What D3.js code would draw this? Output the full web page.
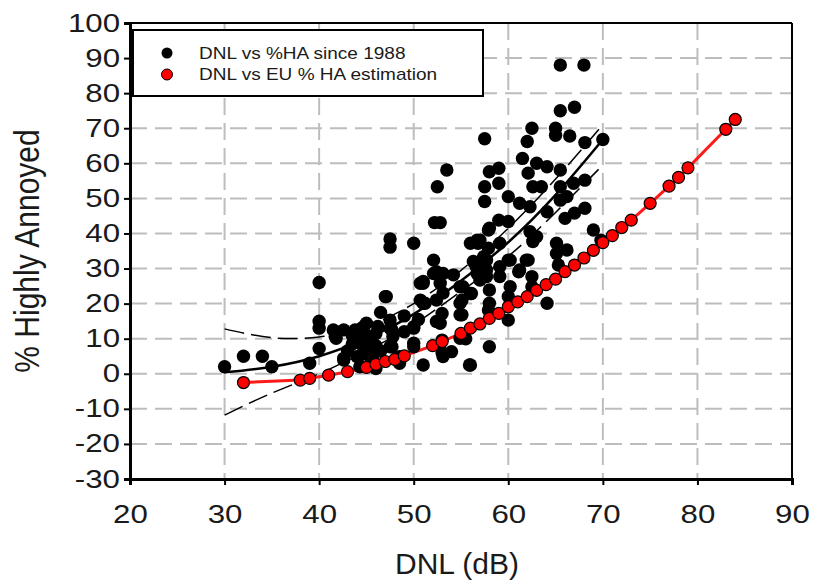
<!DOCTYPE html>
<html>
<head>
<meta charset="utf-8">
<script src="https://cdn.jsdelivr.net/npm/d3@7"></script>
<style>
  body { margin: 0; background: #fff; }
  text { font-family: "Liberation Sans", Arial, sans-serif; fill: #1a1a1a; }
</style>
</head>
<body>
<div id="chart"></div>
<script>
var width = 813, height = 581;
var margin = {left: 130, right: 21, top: 23, bottom: 102};

var xTicks = [20, 30, 40, 50, 60, 70, 80, 90];
var yTicks = [-30, -20, -10, 0, 10, 20, 30, 40, 50, 60, 70, 80, 90, 100];

// survey points (DNL, %HA)
var surveyPoints = [
  [30,2],[32,5],[34,5],[35,2],[39,3],[40,26],[40,15],[40,13],[40,7.2],
  [42.6,4.4],[42.6,12.5],[41.8,10.1],[44.5,13],[45,14.4],[47.5,38.4],[47.5,36.1],
  [47.1,22],[50,37.2],[47.5,15.3],[47.7,12.5],[47.7,7.7],[50,13],[50,7.7],
  [50.7,25.8],[50.7,21],[41.7,10.6],[44.7,13.4],[44.7,10.6],[47.5,13],[47.8,10.6],
  [44.7,7.7],[45.4,5.8],[44,4.9],[42.6,3.9],[44.3,2],[45.7,3.9],[47.5,7.7],
  [48.5,4.9],[50,13.4],[50,8.7],[51,2.5],[53.1,4.9],[54,6.3],[53,9.6],[55.9,2.5],
  [43.5,8.5],[45.5,9.5],[46,11.5],[46.5,6.5],[43,6.5],[46,1.5],[48.5,3],[49,12],
  [44,9],[45,11],[46,8],[44.5,5.5],[45.5,3],[43.8,12.5],[46.2,13.5],
  [52.2,43.1],[52.8,43.1],[52.1,32.4],[52.4,29.1],[51,26.3],[53.1,28.6],[54.2,28.2],
  [52.8,25.8],[55.2,24.8],[56.1,22.9],[47,22],[51.2,20.1],[52.4,21],[53,17.2],
  [55.1,21],[55.1,16.8],[52.4,14.9],[54.9,10.1],[56.8,37.2],[56,37.2],[56.6,30.5],
  [65.5,88],[68,88],[65.5,75],[67,76],[62.5,70],[65,70],[62,66.2],[65,68],
  [66.5,67.8],[68.1,65.9],[70,66.8],[57.5,67],[61.5,61.4],[62.1,57.2],[63,60],
  [64.1,59],[65.5,58.1],[58,57.6],[59,58.6],[57.5,53.3],[59,54.3],[62.6,53.3],
  [63.5,53.3],[65.5,53.3],[66.9,54.3],[68.1,55.2],[57.5,49.1],[60,50.5],[61.2,48.6],
  [62.3,47.6],[64.1,46.2],[65.5,49.5],[66.2,50.5],[68.1,47.2],[67,45.8],[66,44.3],
  [59,43.8],[60,43.4],[57.9,41],[56.7,38.1],[59.1,37.2],[62.3,40.5],[63,39.1],
  [62.6,37.7],[69,41],[69.8,38.1],[57.4,33.4],[56.3,32],[57.7,29.6],[60,32.4],[62.1,32.4],
  [65.1,37.2],[66.2,35.3],[65.1,34.3],[61.1,29.1],[59.1,27.7],[57,26.7],[58,23.9],
  [62.5,27.7],[62.5,24.8],[64.1,20.1],[65.3,31],[60,22],[58,20.1],
  [53.5,58.1],[52.5,53.3],[58,41.5],[57,38.1],[57.9,35.8],[52.1,28.6],[53.1,23],
  [51,25.8],[51,20.1],[54.9,24.8],[56,22.9],[54.9,20.1],[56.7,28.6],[57.7,32.4],
  [57.7,27.7],[59.1,30.5],[60.2,32.4],[61.9,32.4],[61.2,29.6],[60.2,24.8],[60,15.3],
  [57.9,18.2],[58,7.7],[52.8,14.4],[54.9,16.8],[56,2.5],[53,6],[55.5,10],
  [50.5,15.5],[49,16.5],[46.5,17.5],[43.5,11],[41.5,12.5]
];

// EU %HA estimation
var euDnl = [32, 38, 39, 41, 43, 45, 46, 47, 48, 49, 52, 53, 55, 56, 57, 58, 59, 60, 61,
  62, 63, 64, 65, 66, 67, 68, 69, 70, 71, 72, 73, 75, 77, 78, 79, 83, 84];
var euHa = [-2.5, -1.8, -1.3, -0.4, 0.6, 1.8, 2.7, 3.5, 4.1, 5.1, 8.0, 9.2, 11.5, 13.0, 14.2,
  15.8, 17.2, 19.1, 20.5, 22.0, 23.8, 25.4, 27.0, 29.1, 31.0, 33.0, 35.2, 37.4, 39.4, 41.7,
  43.8, 48.6, 53.5, 56.0, 58.7, 69.7, 72.5];

// regression curve and confidence band
var fitDnl = [30, 35, 40, 45, 50, 55, 60, 65, 70];
var fitHa = [0.4, 2, 5, 10, 17, 26.5, 37.5, 51, 66.8];
var fitUpper = [12.8, 10.3, 10.5, 13.5, 20, 29.5, 41.5, 55.5, 71];
var fitLower = [-11.8, -5.5, 0, 6.5, 14, 23.5, 33.5, 46, 59.5];

var svg = d3.select('#chart').append('svg')
  .attr('width', width).attr('height', height);

var x = d3.scaleLinear().domain([20, 90]).range([margin.left, width - margin.right]);
var y = d3.scaleLinear().domain([-30, 100]).range([height - margin.bottom, margin.top]);

// grid
svg.append('g').selectAll('line').data(xTicks.slice(1, -1)).enter().append('line')
  .attr('x1', d => x(d)).attr('x2', d => x(d))
  .attr('y1', y(100)).attr('y2', y(-30))
  .attr('stroke', '#bdbdbd').attr('stroke-width', 2).attr('stroke-dasharray', '17,8');
svg.append('g').selectAll('line').data(yTicks.slice(1, -1)).enter().append('line')
  .attr('x1', x(20)).attr('x2', x(90))
  .attr('y1', d => y(d)).attr('y2', d => y(d))
  .attr('stroke', '#bdbdbd').attr('stroke-width', 2).attr('stroke-dasharray', '17,8');

// axes (plain hyphen for negatives, like the original)
var fmt = d => String(d);
var xAxis = svg.append('g')
  .attr('transform', 'translate(0,' + y(-30) + ')')
  .call(d3.axisBottom(x).tickValues(xTicks).tickFormat(fmt).tickSize(6).tickPadding(20));
var yAxis = svg.append('g')
  .attr('transform', 'translate(' + x(20) + ',0)')
  .call(d3.axisLeft(y).tickValues(yTicks).tickFormat(fmt).tickSize(6).tickPadding(4));
[xAxis, yAxis].forEach(function(a){
  a.select('.domain').attr('stroke', '#000').attr('stroke-width', 3);
  a.selectAll('.tick line').attr('stroke', '#000').attr('stroke-width', 2);
  a.selectAll('.tick text').style('font-size', '25px')
    .style('font-family', '"Liberation Sans", Arial, sans-serif').attr('fill', '#1a1a1a');
});
// text in the source is a little wide
xAxis.selectAll('.tick text').attr('transform', 'scale(1.25,1)');
yAxis.selectAll('.tick text').attr('x', -8).attr('transform', 'scale(1.25,1)');

// top and right frame
svg.append('line').attr('x1', x(20)).attr('x2', x(90)).attr('y1', y(100)).attr('y2', y(100))
  .attr('stroke', '#000').attr('stroke-width', 2);
svg.append('line').attr('x1', x(90)).attr('x2', x(90)).attr('y1', y(100)).attr('y2', y(-30))
  .attr('stroke', '#000').attr('stroke-width', 2);

// axis titles
svg.append('text').attr('x', (x(20) + x(90)) / 2 - 4).attr('y', 574)
  .attr('text-anchor', 'middle').style('font-size', '30px').text('DNL (dB)');
svg.append('text')
  .attr('transform', 'translate(39,' + ((y(100) + y(-30)) / 2) + ') rotate(-90) scale(1,1.15)')
  .attr('text-anchor', 'middle').style('font-size', '30px').text('% Highly Annoyed');

// EU estimation line
var line = d3.line().x(d => x(d[0])).y(d => y(d[1]));
var euPts = euDnl.map((d, i) => [d, euHa[i]]);
svg.append('path').datum(euPts).attr('d', line)
  .attr('fill', 'none').attr('stroke', '#ff1a1a').attr('stroke-width', 3);

// survey scatter
svg.append('g').selectAll('circle').data(surveyPoints).enter().append('circle')
  .attr('cx', d => x(d[0])).attr('cy', d => y(d[1])).attr('r', 6.7).attr('fill', '#000');

// regression with confidence band
var curve = d3.line().curve(d3.curveNatural).x(d => x(d[0])).y(d => y(d[1]));
svg.append('path').datum(fitDnl.map((d, i) => [d, fitHa[i]])).attr('d', curve)
  .attr('fill', 'none').attr('stroke', '#000').attr('stroke-width', 2.5);
[fitUpper, fitLower].forEach(function(band){
  svg.append('path').datum(fitDnl.map((d, i) => [d, band[i]])).attr('d', curve)
    .attr('fill', 'none').attr('stroke', '#000').attr('stroke-width', 1.5)
    .attr('stroke-dasharray', '20,7');
});

// EU points on top
svg.append('g').selectAll('circle').data(euPts).enter().append('circle')
  .attr('cx', d => x(d[0])).attr('cy', d => y(d[1])).attr('r', 6)
  .attr('fill', '#ff0000').attr('stroke', '#000').attr('stroke-width', 1.2);

// legend
var legend = svg.append('g');
legend.append('rect').attr('x', 133).attr('y', 30).attr('width', 350).attr('height', 66)
  .attr('fill', '#fff').attr('stroke', '#000').attr('stroke-width', 2);
var legendItems = [
  {label: 'DNL vs %HA since 1988', fill: '#000', stroke: 'none'},
  {label: 'DNL vs EU % HA estimation', fill: '#ff0000', stroke: '#000'}
];
legendItems.forEach(function(item, i){
  legend.append('circle').attr('cx', 167).attr('cy', 53 + i * 21.5).attr('r', 5.5)
    .attr('fill', item.fill).attr('stroke', item.stroke).attr('stroke-width', 1);
  legend.append('text').attr('x', 199 / 1.12).attr('y', 59 + i * 21.5)
    .attr('transform', 'scale(1.12,1)')
    .style('font-size', '17px').text(item.label);
});
</script>
</body>
</html>
